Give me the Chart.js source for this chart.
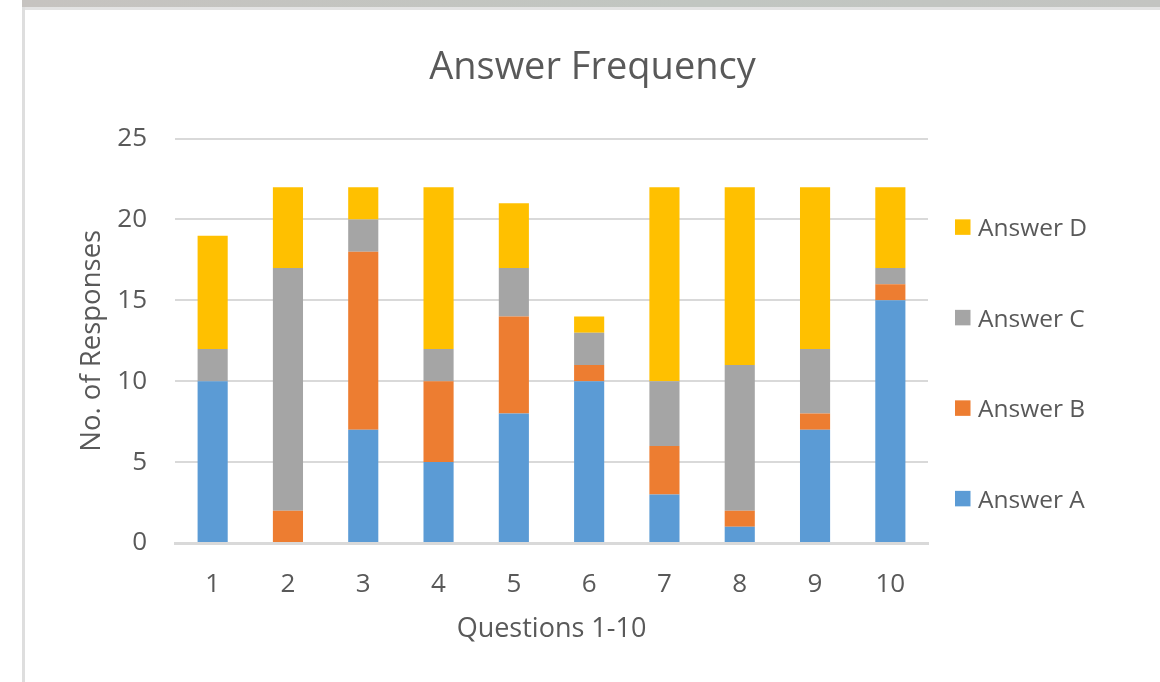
<!DOCTYPE html>
<html>
<head>
<meta charset="utf-8">
<title>Answer Frequency</title>
<script src="https://cdn.jsdelivr.net/npm/chart.js@4.4.1/dist/chart.umd.min.js"></script>
<style>
  html, body { margin: 0; padding: 0; background: #fff; }
  body { width: 1160px; height: 682px; position: relative; overflow: hidden; }
  .topbar { position: absolute; left: 22px; top: 0; right: 0; height: 7px;
    background: linear-gradient(90deg, #c6c3c0, #c1c6c1 60%, #c3c4c1); }
  .topline { position: absolute; left: 22px; top: 7px; right: 0; height: 3px; background: #e3e3e3; }
  .leftline { position: absolute; left: 22px; top: 7px; bottom: 0; width: 3px; background: #dedede; }
  .wrap { position: absolute; left: 25px; top: 10px; width: 1135px; height: 672px; }
</style>
</head>
<body>
<div class="topbar"></div>
<div class="topline"></div>
<div class="leftline"></div>
<div class="wrap"><canvas id="chart"></canvas></div>

<script>
// values
const questions = ["1", "2", "3", "4", "5", "6", "7", "8", "9", "10"];
const answerA = [10, 0, 7, 5, 8, 10, 3, 1, 7, 15];
const answerB = [0, 2, 11, 5, 6, 1, 3, 1, 1, 1];
const answerC = [2, 15, 2, 2, 3, 2, 4, 9, 4, 1];
const answerD = [7, 5, 2, 10, 4, 1, 12, 11, 10, 5];
const yTicks = [0, 5, 10, 15, 20, 25];

(function(){
  const FONT = "'Open Sans', 'DejaVu Sans', sans-serif";
  const TEXT = "#595959";
  const GRID = "#d9d9d9";

  const series = [
    { label: "Answer A", data: answerA, color: "#5b9bd5" },
    { label: "Answer B", data: answerB, color: "#ed7d31" },
    { label: "Answer C", data: answerC, color: "#a5a5a5" },
    { label: "Answer D", data: answerD, color: "#ffc000" }
  ];

  // legend on the right, top item = last dataset (like Excel)
  const sideLegend = {
    id: "sideLegend",
    afterDraw(chart){
      const {ctx, chartArea} = chart;
      const box = 15.5, step = 90.5;
      const x = chartArea.right + 27;
      let y = chartArea.top + 88.5;
      ctx.save();
      ctx.font = "24.5px " + FONT;
      ctx.textBaseline = "middle";
      const ds = chart.data.datasets.slice().reverse();
      ds.forEach((d)=>{
        ctx.fillStyle = d.backgroundColor;
        ctx.fillRect(x, y - box/2, box, box);
        ctx.fillStyle = TEXT;
        ctx.fillText(d.label, x + 23, y + 2);
        y += step;
      });
      ctx.restore();
    }
  };

  new Chart(document.getElementById("chart"), {
    type: "bar",
    data: {
      labels: questions,
      datasets: series.map((s)=>({
        label: s.label,
        data: s.data,
        backgroundColor: s.color,
        borderWidth: 0,
        barPercentage: 0.4,
        categoryPercentage: 1
      }))
    },
    options: {
      responsive: true,
      maintainAspectRatio: false,
      animation: false,
      layout: { padding: 0 },
      plugins: {
        legend: { display: false },
        tooltip: { enabled: false },
        title: {
          display: true,
          text: "Answer Frequency",
          color: TEXT,
          font: { family: FONT, size: 38, weight: "normal" },
          padding: { top: 35, bottom: 48 }
        }
      },
      scales: {
        x: {
          stacked: true,
          grid: { display: false, drawTicks: false },
          border: { display: true, color: GRID, width: 3 },
          ticks: { color: TEXT, font: { family: FONT, size: 26 }, padding: 26 },
          title: {
            display: true,
            text: "Questions 1-10",
            color: TEXT,
            font: { family: FONT, size: 27 },
            padding: { top: 0, bottom: 36 }
          },
          afterFit: (s)=>{ s.height = 139; }
        },
        y: {
          stacked: true,
          min: 0,
          max: 25,
          afterBuildTicks: (s)=>{ s.ticks = yTicks.map((v)=>({ value: v })); },
          grid: { color: GRID, lineWidth: 2, drawTicks: false },
          border: { display: false },
          ticks: { color: TEXT, font: { family: FONT, size: 26 }, padding: 28 },
          title: {
            display: true,
            text: "No. of Responses",
            color: TEXT,
            font: { family: FONT, size: 27.5 },
            padding: { top: 51, bottom: 0 }
          },
          afterFit: (s)=>{ s.width = 150; }
        },
        // empty right-hand strip that leaves room for the legend
        legendSpace: {
          type: "linear",
          position: "right",
          grid: { display: false, drawTicks: false },
          border: { display: false },
          ticks: { display: false },
          afterFit: (s)=>{ s.width = 232; }
        }
      }
    },
    plugins: [sideLegend]
  });
})();
</script>
</body>
</html>
